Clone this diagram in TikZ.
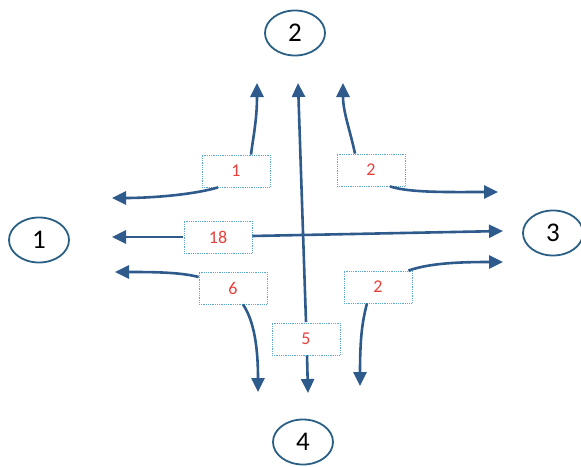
\documentclass[tikz,border=0pt]{standalone}
\usepackage{fontspec}
\setmainfont{Carlito}
\usetikzlibrary{arrows.meta,calc,shapes.geometric}
\definecolor{flow}{HTML}{2E5A8C}
\definecolor{boxline}{HTML}{5BA8D0}
\definecolor{count}{HTML}{E8413C}
\definecolor{ring}{HTML}{2A5F85}
\tikzset{
  flowline/.style={draw=flow, line width=2.6pt, -{Triangle[length=14pt,width=13pt]}},
  countbox/.style={draw=boxline, densely dotted, line width=0.8pt, fill=white,
    minimum width=68pt, minimum height=32pt, inner sep=0pt,
    text=count, font=\fontsize{18}{18}\selectfont},
  approach/.style={ellipse, draw=ring, line width=1.8pt, minimum width=60pt,
    minimum height=45pt, inner sep=0pt, font=\fontsize{27}{27}\selectfont},
}
\begin{document}
\begin{tikzpicture}[x=1pt,y=-1pt]
\useasboundingbox (0,0) rectangle (581,466);

% approach labels
\node[approach] (a1) at (39,240) {1};
\node[approach] (a2) at (295,33) {2};
\node[approach] (a3) at (553,233) {3};
\node[approach] (a4) at (303,442) {4};

% free ends of the movement arrows
\coordinate (t1up)   at (257,83);
\coordinate (t1left) at (112,198);
\coordinate (t2up)   at (343,83);
\coordinate (t2right) at (498,192);
\coordinate (thl) at (112,237);
\coordinate (thr) at (503,231);
\coordinate (t6left) at (115,272);
\coordinate (t6down) at (258,392);
\coordinate (t7right) at (503,262);
\coordinate (t7down) at (360,386);
\coordinate (tvup) at (298,83);
\coordinate (tvdown) at (308,393);

% through movements
\draw[flowline] (183,237) -- (thl);
\draw[flowline] (252,236) -- (thr);
\draw[flowline] (306,322) -- (tvup);
\draw[flowline] (307,355) -- (tvdown);

% turning count boxes
\node[countbox] (b1) at (236,171) {1};
\node[countbox] (b2) at (371,170) {2};
\node[countbox] (b18) at (218,237) {18};
\node[countbox] (b6) at (233,288) {6};
\node[countbox] (b5) at (306,339) {5};
\node[countbox] (b7) at (378,287) {2};

% turning movements
\draw[flowline] ([xshift=15pt]b1.north) .. controls (253,138) and (257,120) .. (t1up);
\draw[flowline] ([xshift=-18pt]b1.south) .. controls (192,195) and (150,198) .. (t1left);
\draw[flowline] ([xshift=-16pt]b2.north) .. controls (350,130) and (343,112) .. (t2up);
\draw[flowline] ([xshift=19pt]b2.south) .. controls (410,193) and (450,192) .. (t2right);
\draw[flowline] ([yshift=11pt]b6.west) .. controls (180,272) and (150,272) .. (t6left);
\draw[flowline] ([xshift=10pt]b6.south) .. controls (252,318) and (258,340) .. (t6down);
\draw[flowline] ([xshift=-4pt]b7.north east) .. controls (430,263) and (460,262) .. (t7right);
\draw[flowline] ([xshift=-11pt]b7.south) .. controls (362,322) and (360,340) .. (t7down);
\end{tikzpicture}
\end{document}
